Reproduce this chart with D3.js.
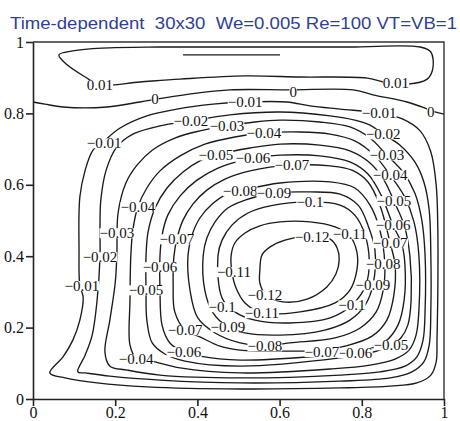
<!DOCTYPE html>
<html>
<head>
<meta charset="utf-8">
<script src="https://cdn.jsdelivr.net/npm/d3@7"></script>
<style>
  body { margin: 0; background: #fff; }
  svg text.serif { font-family: "Liberation Serif", "DejaVu Serif", "Times New Roman", serif; }
</style>
</head>
<body>
<div id="chart"></div>
<script>
// Streamfunction contours (x, y in cavity units 0..1)
const xTicks = [0, 0.2, 0.4, 0.6, 0.8, 1];
const yTicks = [0, 0.2, 0.4, 0.6, 0.8, 1];

const psiP02 = [[0.365,0.964],[0.601,0.964]];
const psiP01 = [[0.063,0.964],[0.097,0.975],[0.168,0.983],[0.309,0.986],[0.528,0.986],[0.771,0.986],[0.942,0.986],[0.968,0.972],[0.973,0.927],[0.959,0.896],[0.912,0.882],[0.852,0.888],[0.813,0.899],[0.650,0.902],[0.516,0.905],[0.358,0.896],[0.260,0.888],[0.163,0.880],[0.127,0.902],[0.083,0.936]];
const psi000 = [[0,0.832],[0.029,0.826],[0.073,0.818],[0.180,0.818],[0.260,0.832],[0.316,0.843],[0.399,0.857],[0.479,0.866],[0.625,0.866],[0.779,0.866],[0.827,0.852],[0.910,0.832],[0.954,0.815],[0.978,0.804],[1,0.798]];
const psiM01 = [[0.114,0.317],[0.112,0.417],[0.114,0.566],[0.127,0.641],[0.146,0.697],[0.173,0.723],[0.212,0.759],[0.277,0.793],[0.350,0.812],[0.438,0.826],[0.516,0.832],[0.618,0.832],[0.674,0.821],[0.747,0.812],[0.842,0.801],[0.900,0.784],[0.942,0.751],[0.968,0.692],[0.981,0.599],[0.985,0.473],[0.985,0.305],[0.983,0.165],[0.981,0.104],[0.968,0.067],[0.934,0.045],[0.869,0.036],[0.747,0.031],[0.504,0.028],[0.277,0.034],[0.156,0.045],[0.078,0.059],[0.041,0.073],[0.073,0.118],[0.097,0.165],[0.114,0.221],[0.122,0.286]];
const psiM02 = [[0.163,0.398],[0.163,0.482],[0.165,0.557],[0.178,0.641],[0.204,0.706],[0.243,0.742],[0.309,0.765],[0.384,0.779],[0.479,0.796],[0.601,0.804],[0.723,0.793],[0.783,0.781],[0.820,0.767],[0.852,0.742],[0.893,0.711],[0.929,0.664],[0.951,0.608],[0.964,0.529],[0.968,0.401],[0.968,0.249],[0.964,0.151],[0.951,0.104],[0.922,0.076],[0.869,0.059],[0.747,0.050],[0.504,0.045],[0.309,0.053],[0.187,0.064],[0.127,0.073],[0.109,0.076],[0.127,0.123],[0.144,0.179],[0.156,0.277]];
const psiM03 = [[0.204,0.401],[0.207,0.521],[0.226,0.605],[0.253,0.655],[0.290,0.697],[0.345,0.731],[0.406,0.751],[0.472,0.765],[0.540,0.776],[0.601,0.781],[0.698,0.776],[0.771,0.762],[0.820,0.731],[0.861,0.683],[0.900,0.636],[0.929,0.577],[0.946,0.501],[0.954,0.401],[0.954,0.249],[0.949,0.165],[0.934,0.118],[0.905,0.092],[0.844,0.076],[0.747,0.067],[0.504,0.059],[0.309,0.067],[0.229,0.081],[0.187,0.092],[0.175,0.132],[0.187,0.221],[0.200,0.325]];
const psiM04 = [[0.238,0.401],[0.243,0.473],[0.255,0.538],[0.277,0.591],[0.309,0.639],[0.358,0.681],[0.418,0.714],[0.491,0.734],[0.562,0.745],[0.650,0.748],[0.723,0.742],[0.783,0.723],[0.832,0.681],[0.869,0.627],[0.903,0.569],[0.927,0.496],[0.939,0.401],[0.939,0.249],[0.932,0.179],[0.915,0.137],[0.881,0.112],[0.820,0.095],[0.723,0.084],[0.504,0.073],[0.358,0.087],[0.297,0.104],[0.251,0.115],[0.236,0.151],[0.236,0.277]];
const psiM05 = [[0.275,0.401],[0.280,0.468],[0.297,0.535],[0.326,0.591],[0.365,0.636],[0.406,0.667],[0.445,0.683],[0.528,0.703],[0.601,0.714],[0.698,0.711],[0.771,0.695],[0.820,0.661],[0.854,0.613],[0.878,0.555],[0.903,0.487],[0.917,0.401],[0.920,0.277],[0.912,0.207],[0.895,0.171],[0.871,0.151],[0.820,0.129],[0.747,0.115],[0.504,0.092],[0.370,0.106],[0.321,0.126],[0.290,0.157],[0.277,0.221],[0.275,0.305]];
const psiM06 = [[0.309,0.401],[0.314,0.459],[0.328,0.515],[0.358,0.569],[0.399,0.613],[0.450,0.647],[0.504,0.667],[0.535,0.675],[0.601,0.683],[0.698,0.681],[0.771,0.664],[0.815,0.630],[0.847,0.571],[0.876,0.487],[0.898,0.431],[0.905,0.375],[0.903,0.277],[0.888,0.207],[0.856,0.160],[0.783,0.129],[0.698,0.120],[0.504,0.109],[0.406,0.120],[0.367,0.132],[0.333,0.157],[0.314,0.207],[0.309,0.305]];
const psiM07 = [[0.343,0.401],[0.350,0.448],[0.365,0.501],[0.389,0.546],[0.423,0.585],[0.467,0.616],[0.528,0.639],[0.630,0.655],[0.723,0.653],[0.776,0.641],[0.815,0.608],[0.844,0.543],[0.869,0.437],[0.881,0.375],[0.878,0.291],[0.861,0.221],[0.825,0.176],[0.759,0.148],[0.703,0.137],[0.601,0.134],[0.504,0.137],[0.455,0.148],[0.406,0.174],[0.370,0.193],[0.345,0.244],[0.341,0.319]];
const psiM08 = [[0.377,0.401],[0.387,0.459],[0.406,0.507],[0.436,0.546],[0.472,0.574],[0.504,0.583],[0.601,0.605],[0.723,0.608],[0.783,0.591],[0.820,0.543],[0.844,0.473],[0.856,0.378],[0.852,0.305],[0.835,0.244],[0.796,0.199],[0.735,0.171],[0.625,0.157],[0.564,0.148],[0.504,0.157],[0.443,0.185],[0.401,0.227],[0.382,0.305]];
const psiM09 = [[0.414,0.401],[0.423,0.451],[0.443,0.496],[0.474,0.535],[0.516,0.557],[0.586,0.577],[0.674,0.580],[0.747,0.574],[0.791,0.543],[0.815,0.487],[0.832,0.417],[0.827,0.319],[0.808,0.263],[0.771,0.221],[0.710,0.193],[0.601,0.179],[0.516,0.185],[0.474,0.202],[0.438,0.241],[0.418,0.305]];
const psiM10 = [[0.450,0.401],[0.460,0.445],[0.484,0.487],[0.523,0.521],[0.577,0.541],[0.674,0.552],[0.747,0.543],[0.783,0.515],[0.808,0.459],[0.818,0.389],[0.810,0.319],[0.776,0.263],[0.723,0.227],[0.625,0.213],[0.540,0.221],[0.491,0.244],[0.460,0.283]];
const psiM11 = [[0.482,0.401],[0.491,0.437],[0.516,0.465],[0.552,0.485],[0.601,0.496],[0.674,0.496],[0.735,0.482],[0.771,0.457],[0.788,0.412],[0.788,0.361],[0.771,0.305],[0.735,0.269],[0.650,0.244],[0.557,0.241],[0.516,0.269],[0.494,0.311],[0.484,0.356]];
const psiM12 = [[0.552,0.361],[0.557,0.403],[0.577,0.426],[0.613,0.445],[0.679,0.457],[0.723,0.448],[0.740,0.423],[0.745,0.389],[0.737,0.350],[0.715,0.314],[0.667,0.280],[0.608,0.272],[0.567,0.291],[0.552,0.325]];

// contour labels: level and where it sits
const labelLevel = [0.01, 0.01, 0, 0, 0,
  -0.01, -0.01, -0.01, -0.01, -0.02, -0.02, -0.02, -0.03, -0.03, -0.03,
  -0.04, -0.04, -0.04, -0.04, -0.05, -0.05, -0.05, -0.05,
  -0.06, -0.06, -0.06, -0.06, -0.06, -0.07, -0.07, -0.07, -0.07, -0.07,
  -0.08, -0.08, -0.08, -0.09, -0.09, -0.09, -0.1, -0.1, -0.1,
  -0.11, -0.11, -0.11, -0.12, -0.12];
const labelX = [0.163, 0.883, 0.297, 0.633, 0.968,
  0.516, 0.173, 0.842, 0.119, 0.384, 0.852, 0.163, 0.472, 0.861, 0.204,
  0.562, 0.255, 0.869, 0.251, 0.445, 0.275, 0.878, 0.871,
  0.535, 0.309, 0.876, 0.367, 0.783, 0.630, 0.350, 0.869, 0.370, 0.703,
  0.504, 0.852, 0.564, 0.586, 0.827, 0.474, 0.674, 0.460, 0.776,
  0.489, 0.771, 0.557, 0.679, 0.564];
const labelY = [0.880, 0.885, 0.840, 0.860, 0.804,
  0.832, 0.717, 0.801, 0.317, 0.779, 0.742, 0.398, 0.765, 0.683, 0.465,
  0.745, 0.538, 0.627, 0.112, 0.683, 0.305, 0.555, 0.151,
  0.675, 0.370, 0.487, 0.132, 0.129, 0.655, 0.448, 0.437, 0.193, 0.132,
  0.583, 0.378, 0.148, 0.577, 0.319, 0.202, 0.552, 0.258, 0.263,
  0.356, 0.462, 0.241, 0.454, 0.291];

const width = 460, height = 421;
const padLeft = 33, padRight = 444, padTop = 42, padBottom = 399;

const contours = [
  {level: 0.02, closed: false, pts: psiP02},
  {level: 0.01, closed: true, pts: psiP01},
  {level: 0, closed: false, pts: psi000},
  {level: -0.01, closed: true, pts: psiM01},
  {level: -0.02, closed: true, pts: psiM02},
  {level: -0.03, closed: true, pts: psiM03},
  {level: -0.04, closed: true, pts: psiM04},
  {level: -0.05, closed: true, pts: psiM05},
  {level: -0.06, closed: true, pts: psiM06},
  {level: -0.07, closed: true, pts: psiM07},
  {level: -0.08, closed: true, pts: psiM08},
  {level: -0.09, closed: true, pts: psiM09},
  {level: -0.1, closed: true, pts: psiM10},
  {level: -0.11, closed: true, pts: psiM11},
  {level: -0.12, closed: true, pts: psiM12}
];

const svg = d3.select("#chart").append("svg")
  .attr("width", width)
  .attr("height", height);

const x = d3.scaleLinear().domain([0, 1]).range([padLeft, padRight]);
const y = d3.scaleLinear().domain([0, 1]).range([padBottom, padTop]);

// title
svg.append("text")
  .attr("x", 10)
  .attr("y", 29)
  .attr("textLength", 447)
  .attr("lengthAdjust", "spacingAndGlyphs")
  .style("font-family", "'Liberation Sans', Arial, sans-serif")
  .style("font-size", "17px")
  .style("fill", "#2f3f95")
  .style("white-space", "pre")
  .text("Time-dependent  30x30  We=0.005 Re=100 VT=VB=1");

// contour lines
const lineOpen = d3.line().x(d => x(d[0])).y(d => y(d[1])).curve(d3.curveCatmullRom.alpha(0.5));
const lineClosed = d3.line().x(d => x(d[0])).y(d => y(d[1])).curve(d3.curveCatmullRomClosed.alpha(0.5));

svg.append("g")
  .selectAll("path")
  .data(contours)
  .join("path")
  .attr("d", d => d.closed ? lineClosed(d.pts) : lineOpen(d.pts))
  .style("fill", "none")
  .style("stroke", "#1a1a1a")
  .style("stroke-width", 1.35)
  .style("stroke-linejoin", "round");

// labels with white box behind, cutting the lines
const fmt = d3.format("~g");
const labG = svg.append("g");
labelLevel.forEach(function (lv, i) {
  let g = labG.append("g");
  let t = g.append("text")
    .attr("class", "serif")
    .attr("x", x(labelX[i]))
    .attr("y", y(labelY[i]))
    .attr("text-anchor", "middle")
    .attr("dy", "0.35em")
    .style("font-size", "15px")
    .style("fill", "#111")
    .text(fmt(lv));
  let bb = t.node().getBBox();
  g.insert("rect", "text")
    .attr("x", bb.x)
    .attr("y", bb.y + 3)
    .attr("width", bb.width)
    .attr("height", bb.height - 6)
    .style("fill", "#fff");
});

// frame
svg.append("path")
  .attr("d", "M" + padLeft + "," + padTop + "H" + padRight + "V" + padBottom)
  .style("fill", "none")
  .style("stroke", "#333")
  .style("stroke-width", 1.4);

// axes
const xAxis = d3.axisBottom(x).tickValues(xTicks).tickFormat(fmt).tickSize(7).tickSizeOuter(0).tickPadding(1);
const yAxis = d3.axisLeft(y).tickValues(yTicks).tickFormat(fmt).tickSize(7).tickSizeOuter(0).tickPadding(2);

const gx = svg.append("g").attr("transform", "translate(0," + padBottom + ")").call(xAxis);
const gy = svg.append("g").attr("transform", "translate(" + padLeft + ",0)").call(yAxis);

[gx, gy].forEach(function (g) {
  g.attr("font-family", null).attr("font-size", null);
  g.selectAll("path, line").style("stroke", "#222").style("stroke-width", 1.6);
  g.selectAll("text")
    .attr("class", "serif")
    .style("font-size", "16px")
    .style("fill", "#111");
});
</script>
</body>
</html>
